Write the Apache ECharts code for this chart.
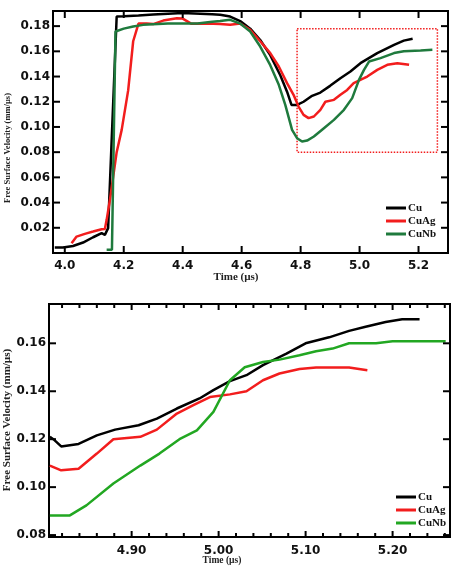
<!DOCTYPE html>
<html>
<head>
<meta charset="utf-8">
<script src="https://cdn.jsdelivr.net/npm/echarts@6/dist/echarts.min.js"></script>
<style>
  html, body { margin: 0; padding: 0; background: #fff; }
  #chart { width: 458px; height: 568px; }
</style>
</head>
<body>
<div id="chart"></div>
<script>
// full trace (upper panel)
var cuT = [3.966, 3.994, 4.028, 4.062, 4.096, 4.125, 4.136, 4.147, 4.176, 4.20, 4.25, 4.30, 4.40, 4.50, 4.527, 4.561, 4.595, 4.629, 4.663, 4.697, 4.731, 4.754, 4.769, 4.788, 4.81, 4.839, 4.867, 4.90, 4.935, 4.969, 5.003, 5.06, 5.117, 5.15, 5.18]
var cuV = [0.0043, 0.0043, 0.0056, 0.0083, 0.0125, 0.0157, 0.0144, 0.0197, 0.1876, 0.1878, 0.1885, 0.1893, 0.1905, 0.1895, 0.189, 0.1876, 0.184, 0.178, 0.169, 0.157, 0.141, 0.128, 0.1175, 0.1175, 0.120, 0.1247, 0.1273, 0.1326, 0.1387, 0.144, 0.1506, 0.1586, 0.1652, 0.1685, 0.170]

var agT = [4.023, 4.04, 4.068, 4.096, 4.125, 4.136, 4.142, 4.153, 4.176, 4.193, 4.215, 4.232, 4.25, 4.278, 4.30, 4.334, 4.38, 4.40, 4.43, 4.47, 4.504, 4.527, 4.561, 4.595, 4.629, 4.663, 4.697, 4.726, 4.754, 4.776, 4.793, 4.81, 4.827, 4.845, 4.867, 4.884, 4.913, 4.935, 4.958, 4.98, 5.015, 5.026, 5.06, 5.094, 5.128, 5.168]
var agV = [0.0078, 0.013, 0.0152, 0.017, 0.0189, 0.019, 0.0263, 0.042, 0.080, 0.0977, 0.129, 0.168, 0.182, 0.182, 0.1816, 0.1844, 0.1863, 0.186, 0.1818, 0.1818, 0.1818, 0.1816, 0.181, 0.182, 0.177, 0.168, 0.1586, 0.148, 0.1348, 0.1255, 0.1162, 0.1096, 0.107, 0.1083, 0.1136, 0.120, 0.1215, 0.1255, 0.1294, 0.1348, 0.1387, 0.140, 0.1453, 0.1493, 0.1506, 0.1493]

var nbT = [4.142, 4.16, 4.172, 4.20, 4.232, 4.266, 4.35, 4.45, 4.50, 4.527, 4.561, 4.595, 4.629, 4.663, 4.697, 4.726, 4.748, 4.771, 4.788, 4.805, 4.822, 4.845, 4.879, 4.913, 4.947, 4.975, 4.998, 5.015, 5.032, 5.071, 5.117, 5.15, 5.207, 5.247]
var nbV = [0.0025, 0.0025, 0.1757, 0.178, 0.1797, 0.181, 0.182, 0.182, 0.1835, 0.184, 0.185, 0.182, 0.1757, 0.1638, 0.149, 0.1334, 0.1175, 0.0977, 0.0911, 0.0884, 0.0892, 0.0924, 0.099, 0.1056, 0.1136, 0.1229, 0.1374, 0.1453, 0.1519, 0.1546, 0.1586, 0.160, 0.1607, 0.1612]

// zoomed window (lower panel)
var cuZT = [4.806, 4.81, 4.819, 4.839, 4.86, 4.881, 4.908, 4.929, 4.952, 4.978, 4.994, 5.013, 5.032, 5.051, 5.078, 5.10, 5.127, 5.15, 5.169, 5.192, 5.211, 5.231]
var cuZV = [0.121, 0.120, 0.117, 0.118, 0.1216, 0.124, 0.1258, 0.1286, 0.1328, 0.137, 0.1405, 0.1442, 0.1467, 0.1509, 0.1557, 0.160, 0.1625, 0.1652, 0.1669, 0.1689, 0.170, 0.170]

var agZT = [4.806, 4.819, 4.839, 4.86, 4.879, 4.91, 4.929, 4.952, 4.971, 4.99, 5.013, 5.032, 5.051, 5.07, 5.093, 5.112, 5.15, 5.171]
var agZV = [0.109, 0.107, 0.1077, 0.114, 0.120, 0.121, 0.124, 0.1307, 0.1342, 0.1376, 0.1387, 0.140, 0.1446, 0.1474, 0.1493, 0.1499, 0.1499, 0.1488]

var nbZT = [4.806, 4.829, 4.848, 4.879, 4.91, 4.932, 4.955, 4.975, 4.994, 5.013, 5.03, 5.051, 5.07, 5.093, 5.112, 5.131, 5.15, 5.181, 5.20, 5.261]
var nbZV = [0.0882, 0.0882, 0.0924, 0.1015, 0.109, 0.114, 0.120, 0.1237, 0.1314, 0.1446, 0.150, 0.1522, 0.1532, 0.155, 0.1567, 0.1578, 0.160, 0.160, 0.1609, 0.1609]

// tick labels
var topXTicks = [4.0, 4.2, 4.4, 4.6, 4.8, 5.0, 5.2]
var topYTicks = [0.02, 0.04, 0.06, 0.08, 0.10, 0.12, 0.14, 0.16, 0.18]
var botXTicks = [4.90, 5.00, 5.10, 5.20]
var botXMinor = [4.82, 4.84, 4.86, 4.88, 4.92, 4.94, 4.96, 4.98, 5.02, 5.04, 5.06, 5.08, 5.12, 5.14, 5.16, 5.18, 5.22, 5.24, 5.26]
var botYTicks = [0.08, 0.10, 0.12, 0.14, 0.16]

// dotted box marking the zoomed window
var boxT = [4.788, 5.264]
var boxV = [0.080, 0.178]

var names = ['Cu', 'CuAg', 'CuNb']

function zip(t, v) {
  return t.map(function (x, i) { return [x, v[i]] })
}

var BLACK = '#000000'
var RED = '#f21d1d'
var DKGREEN = '#1f7a3d'
var GREEN = '#22a722'
var TICK = '#000000'
var labelFont = { fontFamily: 'DejaVu Sans', fontWeight: 'bold', fontSize: 12, color: '#111' }
var serif = 'bold {s}px "Liberation Serif", serif'

function axis(grid, min, max, ticks, margin, digits) {
  return {
    type: 'value', gridIndex: grid, min: min, max: max,
    splitLine: { show: false },
    axisLine: { show: false },
    axisTick: { show: false },
    axisLabel: Object.assign({ customValues: ticks, margin: margin, formatter: function (v) { return v.toFixed(digits) } }, labelFont)
  }
}
// frame and inward tick marks on all four sides, placed through the axis scales
function ticks(idx, side, values, len, xMin, yMin) {
  return {
    type: 'custom', xAxisIndex: idx, yAxisIndex: idx, silent: true, clip: false, z: 10,
    data: values.map(function (v) { return side === 'bottom' || side === 'top' ? [v, yMin] : [xMin, v] }),
    renderItem: function (params, api) {
      var cs = params.coordSys
      var p = api.coord([api.value(0), api.value(1)])
      var s
      if (side === 'bottom') s = { x1: p[0], y1: cs.y + cs.height, x2: p[0], y2: cs.y + cs.height - len }
      else if (side === 'top') s = { x1: p[0], y1: cs.y, x2: p[0], y2: cs.y + len }
      else if (side === 'left') s = { x1: cs.x, y1: p[1], x2: cs.x + len, y2: p[1] }
      else s = { x1: cs.x + cs.width, y1: p[1], x2: cs.x + cs.width - len, y2: p[1] }
      return { type: 'line', shape: s, style: { stroke: TICK, lineWidth: 2 } }
    }
  }
}
function line(name, data, color, idx) {
  return {
    name: name, type: 'line', data: data, xAxisIndex: idx, yAxisIndex: idx,
    showSymbol: false, symbol: 'none', clip: true,
    lineStyle: { color: color, width: 2.5 }, itemStyle: { color: color }
  }
}
function legend(left, top, colors) {
  return {
    orient: 'vertical', left: left, top: top, icon: 'rect',
    itemWidth: 20, itemHeight: 3, itemGap: 1, selectedMode: false,
    textStyle: { fontFamily: 'Liberation Serif', fontWeight: 'bold', fontSize: 11, lineHeight: 12, color: '#111', padding: [0, 0, 0, -3] },
    data: names.map(function (n, i) { return { name: n, itemStyle: { color: colors[i] } } })
  }
}

var topX = [3.96, 5.30], topY = [0, 0.192]
var botX = [4.805, 5.266], botY = [0.0792, 0.1764]

var chart = echarts.init(document.getElementById('chart'))
var topSeries = [
  line('Cu', zip(cuT, cuV), BLACK, 0),
  line('CuAg', zip(agT, agV), RED, 0),
  line('CuNb', zip(nbT, nbV), DKGREEN, 0)
]
topSeries[1].markArea = {
  silent: true,
  label: { show: false },
  itemStyle: { color: 'rgba(0,0,0,0)', borderColor: RED, borderWidth: 1.5, borderType: 'dotted' },
  data: [[{ coord: [boxT[0], boxV[1]] }, { coord: [boxT[1], boxV[0]] }]]
}
var botSeries = [
  line('Cu', zip(cuZT, cuZV), BLACK, 1),
  line('CuAg', zip(agZT, agZV), RED, 1),
  line('CuNb', zip(nbZT, nbZV), GREEN, 1)
]
var tickSeries = [
  ticks(0, 'bottom', topXTicks, 7, topX[0], topY[0]),
  ticks(0, 'top', topXTicks, 7, topX[0], topY[0]),
  ticks(0, 'left', topYTicks, 7, topX[0], topY[0]),
  ticks(0, 'right', topYTicks, 7, topX[0], topY[0]),
  ticks(1, 'bottom', botXTicks, 6, botX[0], botY[0]),
  ticks(1, 'bottom', botXMinor, 4, botX[0], botY[0]),
  ticks(1, 'top', botXTicks, 6, botX[0], botY[0]),
  ticks(1, 'top', botXMinor, 4, botX[0], botY[0]),
  ticks(1, 'left', botYTicks, 7, botX[0], botY[0]),
  ticks(1, 'right', botYTicks, 7, botX[0], botY[0])
]

chart.setOption({
  animation: false,
  grid: [
    { left: 53, top: 11, width: 395, height: 242, show: true, borderColor: '#000', borderWidth: 2 },
    { left: 49, top: 304, width: 401, height: 233, show: true, borderColor: '#000', borderWidth: 2 }
  ],
  xAxis: [
    axis(0, topX[0], topX[1], topXTicks, 7, 1),
    axis(1, botX[0], botX[1], botXTicks, 8, 2)
  ],
  yAxis: [
    axis(0, topY[0], topY[1], topYTicks, 3, 2),
    axis(1, botY[0], botY[1], botYTicks, 3, 2)
  ],
  legend: [
    legend(381, 197, [BLACK, RED, DKGREEN]),
    legend(391, 486, [BLACK, RED, GREEN])
  ],
  graphic: [
    { type: 'text', x: 8, y: 148, rotation: Math.PI / 2, silent: true,
      style: { text: 'Free Surface Velocity (mm/µs)', font: serif.replace('{s}', 8.5), fill: '#222', align: 'center', verticalAlign: 'middle' } },
    { type: 'text', x: 236, y: 277, silent: true,
      style: { text: 'Time (µs)', font: serif.replace('{s}', 11), fill: '#222', align: 'center', verticalAlign: 'middle' } },
    { type: 'text', x: 7, y: 420, rotation: Math.PI / 2, silent: true,
      style: { text: 'Free Surface Velocity (mm/µs)', font: serif.replace('{s}', 11), fill: '#222', align: 'center', verticalAlign: 'middle' } },
    { type: 'text', x: 222, y: 561, silent: true,
      style: { text: 'Time (µs)', font: serif.replace('{s}', 9.5), fill: '#222', align: 'center', verticalAlign: 'middle' } }
  ],
  series: topSeries.concat(botSeries, tickSeries)
})
</script>
</body>
</html>
